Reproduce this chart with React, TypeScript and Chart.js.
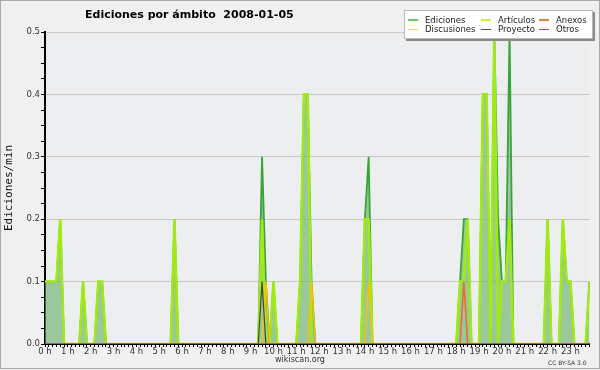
import React, { useEffect, useRef } from "react";
import { Chart, registerables } from "chart.js";
Chart.register(...registerables);

// 10-minute slots, 6 per hour, 0 h .. 23 h 50
const hourLabels = [
  "0 h", "1 h", "2 h", "3 h", "4 h", "5 h", "6 h", "7 h", "8 h", "9 h", "10 h", "11 h",
  "12 h", "13 h", "14 h", "15 h", "16 h", "17 h", "18 h", "19 h", "20 h", "21 h", "22 h", "23 h",
];
const yTickLabels = ["0.0", "0.1", "0.2", "0.3", "0.4", "0.5"];

const ediciones = [
  0.1, 0.1, 0.1, 0.1, 0.2, 0, // 0 h
  0, 0, 0, 0, 0.1, 0, // 1 h
  0, 0, 0.1, 0.1, 0, 0, // 2 h
  0, 0, 0, 0, 0, 0, // 3 h
  0, 0, 0, 0, 0, 0, // 4 h
  0, 0, 0, 0, 0.2, 0, // 5 h
  0, 0, 0, 0, 0, 0, // 6 h
  0, 0, 0, 0, 0, 0, // 7 h
  0, 0, 0, 0, 0, 0, // 8 h
  0, 0, 0, 0.3, 0.1, 0, // 9 h
  0.1, 0, 0, 0, 0, 0, // 10 h
  0, 0.1, 0.4, 0.4, 0.1, 0, // 11 h
  0, 0, 0, 0, 0, 0, // 12 h
  0, 0, 0, 0, 0, 0, // 13 h
  0.2, 0.3, 0, 0, 0, 0, // 14 h
  0, 0, 0, 0, 0, 0, // 15 h
  0, 0, 0, 0, 0, 0, // 16 h
  0, 0, 0, 0, 0, 0, // 17 h
  0, 0.1, 0.2, 0.2, 0, 0, // 18 h
  0, 0.4, 0.4, 0, 0.5, 0.2, // 19 h
  0.1, 0.1, 0.5, 0, 0, 0, // 20 h
  0, 0, 0, 0, 0, 0, // 21 h
  0.2, 0, 0, 0, 0.2, 0.1, // 22 h
  0.1, 0, 0, 0, 0, 0.1, // 23 h
];

const articulos = [
  0.1, 0.1, 0.1, 0.1, 0.2, 0,
  0, 0, 0, 0, 0.1, 0,
  0, 0, 0.1, 0.1, 0, 0,
  0, 0, 0, 0, 0, 0,
  0, 0, 0, 0, 0, 0,
  0, 0, 0, 0, 0.2, 0,
  0, 0, 0, 0, 0, 0,
  0, 0, 0, 0, 0, 0,
  0, 0, 0, 0, 0, 0,
  0, 0, 0, 0.2, 0, 0,
  0.1, 0, 0, 0, 0, 0,
  0, 0.1, 0.4, 0.4, 0, 0,
  0, 0, 0, 0, 0, 0,
  0, 0, 0, 0, 0, 0,
  0.2, 0.2, 0, 0, 0, 0,
  0, 0, 0, 0, 0, 0,
  0, 0, 0, 0, 0, 0,
  0, 0, 0, 0, 0, 0,
  0, 0.1, 0.1, 0.2, 0, 0,
  0, 0.4, 0.4, 0, 0.5, 0,
  0.1, 0.1, 0.2, 0, 0, 0,
  0, 0, 0, 0, 0, 0,
  0.2, 0, 0, 0, 0.2, 0.1,
  0.1, 0, 0, 0, 0, 0.1,
];

const anexos = [
  0, 0, 0, 0, 0, 0, 0, 0, 0, 0, 0, 0, 0, 0, 0, 0, 0, 0, 0, 0, 0, 0, 0, 0,
  0, 0, 0, 0, 0, 0, 0, 0, 0, 0, 0, 0, 0, 0, 0, 0, 0, 0, 0, 0, 0, 0, 0, 0,
  0, 0, 0, 0, 0, 0, 0, 0, 0, 0, 0, 0, 0, 0, 0, 0, 0, 0, 0, 0, 0, 0, 0, 0,
  0, 0, 0, 0, 0, 0, 0, 0, 0, 0, 0, 0, 0, 0, 0, 0, 0, 0, 0, 0, 0, 0, 0, 0,
  0, 0, 0, 0, 0, 0, 0, 0, 0, 0, 0, 0, 0, 0, 0.1, 0, 0, 0, 0, 0, 0, 0, 0, 0,
  0, 0, 0, 0, 0, 0, 0, 0, 0, 0, 0, 0, 0, 0, 0, 0, 0, 0, 0, 0, 0, 0, 0, 0,
];

const discusiones = [
  0, 0, 0, 0, 0, 0, 0, 0, 0, 0, 0, 0, 0, 0, 0, 0, 0, 0, 0, 0, 0, 0, 0, 0,
  0, 0, 0, 0, 0, 0, 0, 0, 0, 0, 0, 0, 0, 0, 0, 0, 0, 0, 0, 0, 0, 0, 0, 0,
  0, 0, 0, 0, 0, 0, 0, 0, 0, 0, 0.1, 0, 0, 0, 0, 0, 0, 0, 0, 0, 0, 0, 0.1, 0,
  0, 0, 0, 0, 0, 0, 0, 0, 0, 0, 0, 0, 0, 0.1, 0, 0, 0, 0, 0, 0, 0, 0, 0, 0,
  0, 0, 0, 0, 0, 0, 0, 0, 0, 0, 0, 0, 0, 0, 0, 0, 0, 0, 0, 0, 0, 0, 0, 0,
  0, 0, 0, 0, 0, 0, 0, 0, 0, 0, 0, 0, 0, 0, 0, 0, 0, 0, 0, 0, 0, 0, 0, 0,
];

const proyecto = [
  0, 0, 0, 0, 0, 0, 0, 0, 0, 0, 0, 0, 0, 0, 0, 0, 0, 0, 0, 0, 0, 0, 0, 0,
  0, 0, 0, 0, 0, 0, 0, 0, 0, 0, 0, 0, 0, 0, 0, 0, 0, 0, 0, 0, 0, 0, 0, 0,
  0, 0, 0, 0, 0, 0, 0, 0, 0, 0.1, 0, 0, 0, 0, 0, 0, 0, 0, 0, 0, 0, 0, 0, 0,
  0, 0, 0, 0, 0, 0, 0, 0, 0, 0, 0, 0, 0, 0, 0, 0, 0, 0, 0, 0, 0, 0, 0, 0,
  0, 0, 0, 0, 0, 0, 0, 0, 0, 0, 0, 0, 0, 0, 0, 0, 0, 0, 0, 0, 0, 0, 0, 0,
  0, 0, 0, 0, 0, 0, 0, 0, 0, 0, 0, 0, 0, 0, 0, 0, 0, 0, 0, 0, 0, 0, 0, 0,
];

const otros = [
  0, 0, 0, 0, 0, 0, 0, 0, 0, 0, 0, 0, 0, 0, 0, 0, 0, 0, 0, 0, 0, 0, 0, 0,
  0, 0, 0, 0, 0, 0, 0, 0, 0, 0, 0, 0, 0, 0, 0, 0, 0, 0, 0, 0, 0, 0, 0, 0,
  0, 0, 0, 0, 0, 0, 0, 0, 0, 0, 0, 0, 0, 0, 0, 0, 0, 0, 0, 0, 0, 0, 0, 0,
  0, 0, 0, 0, 0, 0, 0, 0, 0, 0, 0, 0, 0, 0, 0, 0, 0, 0, 0, 0, 0, 0, 0, 0,
  0, 0, 0, 0, 0, 0, 0, 0, 0, 0, 0, 0, 0, 0, 0, 0, 0, 0, 0, 0, 0, 0, 0, 0,
  0, 0, 0, 0, 0, 0, 0, 0, 0, 0, 0, 0, 0, 0, 0, 0, 0, 0, 0, 0, 0, 0, 0, 0,
];

const C_EDIC = "#36a636";
const C_ART = "#a2ea14";
const C_ANEX = "#ee6a22";
const C_DISC = "#f4c400";
const C_PROY = "#444444";
const C_OTROS = "#9944ee";

const legendItems = [
  { label: "Ediciones", color: "#66cc66", col: 0, row: 0 },
  { label: "Artículos", color: "#c6f23a", col: 1, row: 0 },
  { label: "Anexos", color: "#f08040", col: 2, row: 0 },
  { label: "Discusiones", color: "#f8d040", col: 0, row: 1 },
  { label: "Proyecto", color: "#555555", col: 1, row: 1 },
  { label: "Otros", color: "#9a40f0", col: 2, row: 1 },
];

const FONT = '"DejaVu Sans", sans-serif';

const bgPlugin = {
  id: "bgPlugin",
  beforeDraw(chart: any) {
    const { ctx, chartArea: a, width, height } = chart;
    ctx.save();
    ctx.fillStyle = "#f0f0f0";
    ctx.fillRect(0, 0, width, height);
    ctx.fillStyle = "#eceef0";
    ctx.fillRect(a.left, a.top, a.right - a.left, a.bottom - a.top);
    ctx.strokeStyle = "#a8a8a8";
    ctx.lineWidth = 1;
    ctx.strokeRect(0.5, 0.5, width - 1, height - 2);
    ctx.restore();
  },
};

function isMajor(v: number) {
  return Math.abs(v * 10 - Math.round(v * 10)) < 1e-6;
}

export default function App() {
  const ref = useRef<HTMLCanvasElement>(null);
  useEffect(() => {
    const xs = ediciones.map((_, i) => i);
    const toPts = (arr: number[]) => arr.map((v, i) => ({ x: xs[i], y: v }));
    const chart = new Chart(ref.current as HTMLCanvasElement, {
      type: "line",
      data: {
        datasets: [
          { label: "Otros", data: toPts(otros), borderColor: C_OTROS, borderWidth: 1.5, order: 1, fill: false },
          { label: "Proyecto", data: toPts(proyecto), borderColor: C_PROY, borderWidth: 1.2, order: 2, fill: false },
          { label: "Anexos", data: toPts(anexos), borderColor: C_ANEX, borderWidth: 1.5, order: 3, fill: false },
          { label: "Discusiones", data: toPts(discusiones), borderColor: C_DISC, borderWidth: 1.5, order: 4, fill: false },
          { label: "Artículos", data: toPts(articulos), borderColor: C_ART, borderWidth: 2.5, order: 5, fill: false },
          {
            label: "Ediciones",
            data: toPts(ediciones),
            borderColor: C_EDIC,
            borderWidth: 1.8,
            backgroundColor: "rgba(100,175,100,0.6)",
            fill: "origin",
            order: 6,
          },
        ],
      },
      options: {
        responsive: false,
        animation: false,
        devicePixelRatio: 1,
        events: [],
        layout: { padding: { left: 0, top: 32, right: 10.5, bottom: 0 } },
        elements: { point: { radius: 0 }, line: { tension: 0 } },
        plugins: { legend: { display: false }, tooltip: { enabled: false }, title: { display: false } },
        scales: {
          x: {
            type: "linear",
            min: 0,
            max: 143,
            z: 1,
            ticks: {
              stepSize: 1,
              autoSkip: false,
              maxRotation: 0,
              minRotation: 0,
              padding: 0,
              color: "#333",
              font: { family: FONT, size: 8.5 },
              callback: (_v: any, index: number) => (index % 6 === 0 ? hourLabels[index / 6] : ""),
            },
            grid: { drawOnChartArea: false, drawTicks: true, tickLength: 3, tickColor: "#000", tickWidth: 1 },
            border: { display: true, color: "#000", width: 2 },
            afterFit: (s: any) => {
              s.height = 26;
            },
          },
          y: {
            type: "linear",
            min: 0,
            max: 0.5,
            ticks: {
              stepSize: 0.025,
              autoSkip: false,
              padding: 1,
              color: "#333",
              font: { family: FONT, size: 8.5 },
              callback: (v: any) => (isMajor(Number(v)) ? yTickLabels[Math.round(Number(v) * 10)] : ""),
            },
            grid: {
              drawTicks: true,
              tickLength: 4,
              tickColor: "#000",
              color: (c: any) => {
                const v = c.tick ? c.tick.value : 0;
                return v > 0.001 && isMajor(v) ? "#c8c8c8" : "rgba(0,0,0,0)";
              },
            },
            border: { display: true, color: "#000", width: 2 },
            title: {
              display: true,
              text: "Ediciones/min",
              color: "#111",
              font: { family: '"DejaVu Sans Mono", monospace', size: 11 },
              padding: { top: 3, bottom: 0 },
            },
            afterFit: (s: any) => {
              s.width = 45;
            },
          },
        },
      },
      plugins: [bgPlugin],
    } as any);
    return () => chart.destroy();
  }, []);

  return (
    <div style={{ position: "fixed", left: 0, top: 0, width: 600, height: 370 }}>
      <canvas ref={ref} width={600} height={370} style={{ display: "block", width: 600, height: 370 }} />
      <div
        style={{
          position: "absolute",
          left: 85,
          top: 8,
          font: `bold 11px ${FONT}`,
          lineHeight: "13px",
          whiteSpace: "pre",
          color: "#000",
        }}
      >
        {"Ediciones por ámbito  2008-01-05"}
      </div>
      <div
        style={{
          position: "absolute",
          left: 404,
          top: 10,
          width: 187,
          height: 27,
          background: "#fff",
          border: "1px solid #b8b8b8",
          boxShadow: "2px 2px 0 #8a8a8a",
        }}
      >
        {legendItems.map((it) => {
          const colX = [0, 73, 131][it.col];
          const top = it.row === 0 ? 3.5 : 13.2;
          return (
            <div key={it.label}>
              <div
                style={{
                  position: "absolute",
                  left: 3 + colX,
                  top: top + 4.5,
                  width: 10,
                  height: 1.5,
                  background: it.color,
                }}
              />
              <div
                style={{
                  position: "absolute",
                  left: 20 + colX,
                  top: top,
                  font: `8.5px ${FONT}`,
                  lineHeight: "10px",
                  color: "#222",
                  whiteSpace: "nowrap",
                }}
              >
                {it.label}
              </div>
            </div>
          );
        })}
      </div>
      <div
        style={{
          position: "absolute",
          left: 250,
          width: 100,
          top: 355,
          textAlign: "center",
          font: `8px ${FONT}`,
          lineHeight: "10px",
          color: "#333",
        }}
      >
        wikiscan.org
      </div>
      <div
        style={{
          position: "absolute",
          left: 548,
          top: 359,
          font: `6px ${FONT}`,
          lineHeight: "7px",
          color: "#333",
          whiteSpace: "nowrap",
        }}
      >
        CC BY-SA 3.0
      </div>
    </div>
  );
}
